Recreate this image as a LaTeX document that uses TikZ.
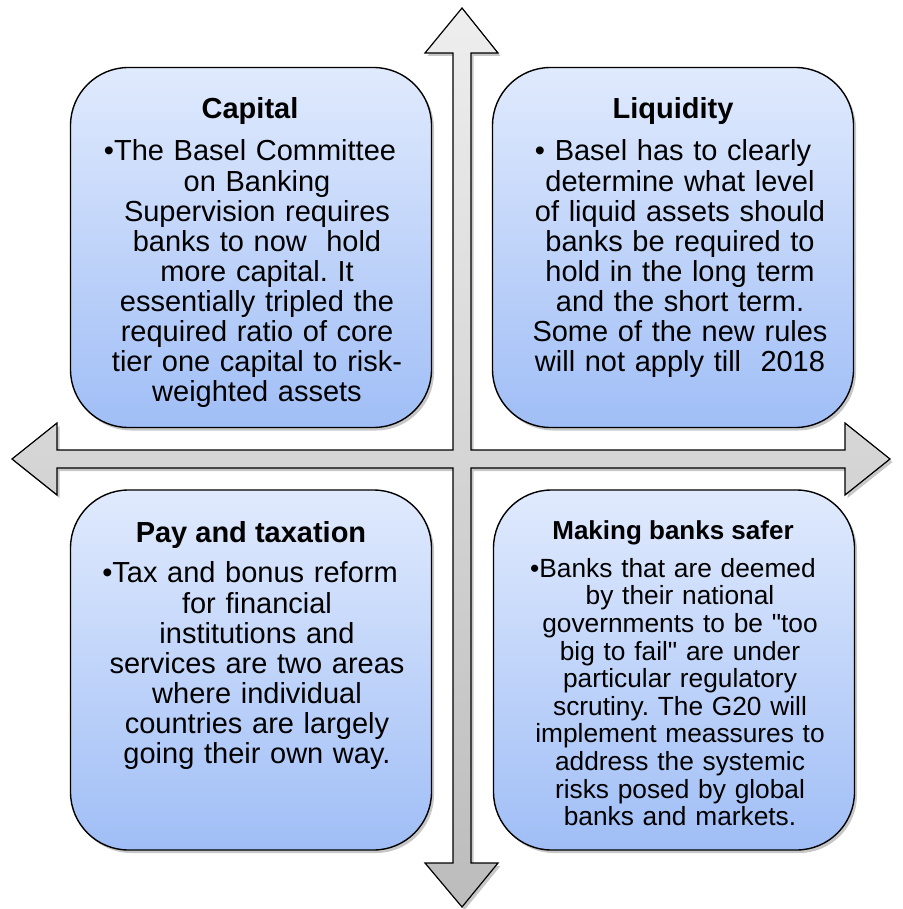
\documentclass[tikz,border=0pt]{standalone}
\usepackage{fontspec}
\newfontfamily\arial{Liberation Sans}
\usetikzlibrary{shadows}
\frenchspacing
\definecolor{boxtop}{RGB}{224,234,253}
\definecolor{boxbot}{RGB}{160,190,246}
\definecolor{crosstop}{RGB}{238,238,238}
\definecolor{crossbot}{RGB}{188,188,188}
% pushes the first (bulleted) line of a paragraph a little to the left
\newcommand{\bulletpad}{\hspace*{14pt}\null}
\tikzset{
  quad/.style={draw=black, line width=1.4pt, rounded corners=58pt,
    top color=boxtop, bottom color=boxbot,
    minimum width=361pt, minimum height=360pt, inner sep=0pt,
    drop shadow={shadow xshift=2.5pt, shadow yshift=-3pt, fill=black, opacity=0.22}},
  headbig/.style={font=\arial\bfseries\fontsize{29}{30}\selectfont, inner sep=0pt, anchor=base},
  headsmall/.style={font=\arial\bfseries\fontsize{26}{27.6}\selectfont, inner sep=0pt, anchor=base},
  bodybig/.style={font=\arial\frenchspacing\fontsize{29}{30}\selectfont, align=center, text width=360pt, inner sep=0pt, anchor=north},
  bodysmall/.style={font=\arial\frenchspacing\fontsize{26.3}{27.6}\selectfont, align=center, text width=360pt, inner sep=0pt, anchor=north},
  crossarrow/.style={draw=black, line width=1.2pt, line join=miter,
    top color=crosstop, bottom color=crossbot,
    drop shadow={shadow xshift=2.5pt, shadow yshift=-3pt, fill=black, opacity=0.22}}
}
\begin{document}
\begin{tikzpicture}[x=1pt, y=-1pt]
\useasboundingbox (0,0) rectangle (902,909);

% four-headed cross
\path[crossarrow] (462,8) -- (498,53) -- (471,53) -- (471,450) -- (845,450) -- (845,423)
  -- (890,459) -- (845,495) -- (845,468) -- (471,468) -- (471,863) -- (498,863)
  -- (462,907) -- (425,863) -- (453,863) -- (453,468) -- (57,468) -- (57,495)
  -- (12,459) -- (57,423) -- (57,450) -- (453,450) -- (453,53) -- (425,53) -- cycle;

% quadrant boxes
\node[quad] (capbox) at (251,247.5) {};
\node[quad] (liqbox) at (673,247.5) {};
\node[quad] (paybox) at (251,670) {};
\node[quad] (safebox) at (674,670) {};

% Capital
\node[headbig] (captitle) at (250,119) {Capital};
\node[bodybig] (captext) at (257,139) {\strut•The Basel Committee\bulletpad\\
on Banking\\
Supervision requires\\
banks to now\ \ hold\\
more capital. It\\
essentially tripled the\\
required ratio of core\\
tier one capital to risk-\\
weighted assets};

% Liquidity
\node[headbig] (liqtitle) at (673,119) {Liquidity};
\node[bodybig] (liqtext) at (680,139) {\strut• Basel has to clearly\bulletpad\\
determine what level\\
of liquid assets should\\
banks be required to\\
hold in the long term\\
and the short term.\\
Some of the new rules\\
will not apply till\ \ 2018};

% Pay and taxation
\node[headbig] (paytitle) at (251,542) {Pay and taxation};
\node[bodybig] (paytext) at (257,561) {\strut•Tax and bonus reform\bulletpad\\
for financial\\
institutions and\\
services are two areas\\
where individual\\
countries are largely\\
going their own way.};

% Making banks safer
\node[headsmall] (safetitle) at (673,539) {Making banks safer};
\node[bodysmall] (safetext) at (680,557.7) {\strut•Banks that are deemed\bulletpad\\
by their national\\
governments to be "too\\
big to fail" are under\\
particular regulatory\\
scrutiny. The G20 will\\
implement meassures to\\
address the systemic\\
risks posed by global\\
banks and markets.};
\end{tikzpicture}
\end{document}
